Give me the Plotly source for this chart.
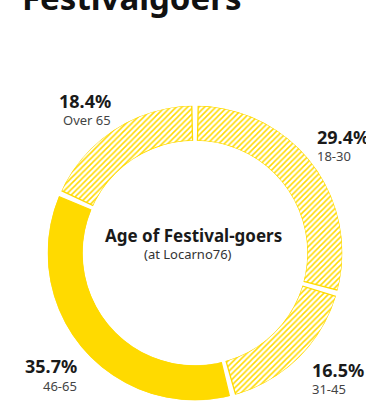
import plotly.graph_objects as go

# ---- data ----
age_groups = ["18-30", "31-45", "46-65", "Over 65"]
shares = [29.4, 16.5, 35.7, 18.4]
hatch = ["/", "/", "", "/"]

title_text = "Festivalgoers"
center_title = "Age of Festival-goers"
center_sub = "(at Locarno76)"

W, H = 366, 403
YEL = "#FFDA00"
FONT = "Noto Sans"

def px(x, y):
    return x / W, (H - y) / H

# ring geometry (pixels)
cx, cy = 195, 253
R_out, R_in = 147.4, 112.3
gap_deg = 2.5

dom_x = [(cx - R_out) / W, (cx + R_out) / W]
dom_y = [(H - cy - R_out) / H, (H - cy + R_out) / H]

# angular positions from the shares (degrees, clockwise from top)
total = sum(shares)
starts, acc = [], 0.0
for s in shares:
    starts.append(acc)
    acc += s / total * 360
theta_mid = [st + s / total * 180 for st, s in zip(starts, shares)]
widths = [s / total * 360 - gap_deg for s in shares]

fig = go.Figure()
fig.add_trace(go.Barpolar(
    r=[1] * len(shares), theta=theta_mid, width=widths, base=0,
    marker=dict(
        color=[YEL] * len(shares),
        line=dict(color=YEL, width=1.3),
        pattern=dict(shape=hatch, fgcolor=[YEL] * len(shares),
                     bgcolor=["white"] * len(shares),
                     size=4, solidity=0.38, fillmode="replace"),
    ),
    hoverinfo="skip", showlegend=False,
))

annotations = []
label_pos = [
    (315, 136.5, 156.5, "left"),
    (310, 370.0, 389.0, "left"),
    (79, 366.0, 385.5, "right"),
    (113, 101.0, 120.0, "right"),
]
for g, v, (x, yp, yc, xa) in zip(age_groups, shares, label_pos):
    ax, ay = px(x, yp)
    annotations.append(dict(x=ax, y=ay, xref="paper", yref="paper", xanchor=xa,
                            yanchor="middle", showarrow=False,
                            text=f"<b>{v}%</b>",
                            font=dict(family=FONT, size=18, color="#1a1a1a")))
    ax, ay = px(x, yc)
    annotations.append(dict(x=ax, y=ay, xref="paper", yref="paper", xanchor=xa,
                            yanchor="middle", showarrow=False, text=g,
                            font=dict(family=FONT, size=13, color="#444444")))

ax, ay = px(193.5, 235)
annotations.append(dict(x=ax, y=ay, xref="paper", yref="paper", xanchor="center",
                        yanchor="middle", showarrow=False, text=f"<b>{center_title}</b>",
                        font=dict(family=FONT, size=17, color="#1a1a1a")))
ax, ay = px(188, 254)
annotations.append(dict(x=ax, y=ay, xref="paper", yref="paper", xanchor="center",
                        yanchor="middle", showarrow=False, text=center_sub,
                        font=dict(family=FONT, size=13, color="#333333")))
ax, ay = px(20, -2)
annotations.append(dict(x=ax, y=ay, xref="paper", yref="paper", xanchor="left",
                        yanchor="middle", showarrow=False, text=f"<b>{title_text}</b>",
                        font=dict(family=FONT, size=33, color="#111111")))

fig.update_layout(
    width=W, height=H, margin=dict(l=0, r=0, t=0, b=0),
    paper_bgcolor="white", plot_bgcolor="white",
    polar=dict(
        domain=dict(x=dom_x, y=dom_y),
        hole=R_in / R_out,
        bgcolor="white",
        radialaxis=dict(range=[0, 1], visible=False, showgrid=False, showline=False,
                        showticklabels=False, ticks=""),
        angularaxis=dict(rotation=90, direction="clockwise", visible=False,
                         showgrid=False, showline=False, showticklabels=False, ticks=""),
    ),
    bargap=0,
    annotations=annotations,
)
fig.write_html("out.html")
